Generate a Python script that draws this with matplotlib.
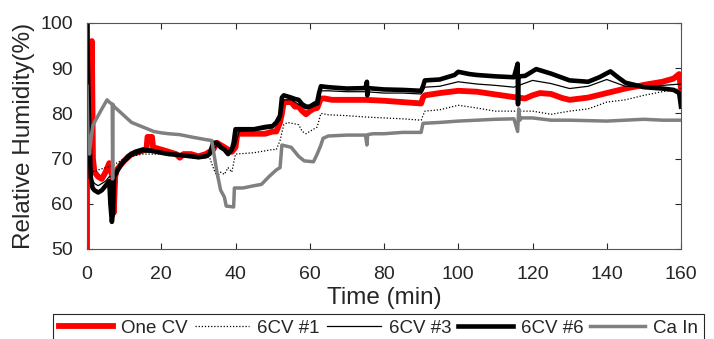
import matplotlib
matplotlib.use("Agg")
import matplotlib.pyplot as plt

# ---------------------------
# Dane
# ---------------------------
one_cv_t = [0, 0, 0.3, 1.0, 1.3, 1.6, 2, 3, 4, 5, 6, 6.8, 7.2, 7.6, 8, 9, 10, 12, 14, 16,
            16.3, 17.5, 17.8, 20, 22, 24, 25, 26, 28, 30, 32, 34, 35, 36, 38, 39, 40, 40.5,
            42, 45, 48, 50, 51, 52, 52.5, 53, 55, 56, 57, 58, 59, 60, 61, 62, 63, 64, 66,
            70, 75, 80, 85, 90, 90.5, 91, 95, 100, 105, 110, 115, 118, 120, 122, 125, 128,
            130, 135, 140, 145, 150, 155, 158, 159.5, 160]
one_cv = [50, 100, 70, 70, 96, 70, 67, 66, 65.5, 67, 69, 66, 58, 66, 67.5, 68.5, 69.5, 71, 71.5, 72,
          74.8, 74.8, 72.5, 72, 71.5, 71, 70.2, 71, 71, 70.5, 71, 72, 73.5, 73, 72, 71.5, 72.5, 75.5,
          75.5, 75.5, 75.5, 76, 76, 78, 80, 82.5, 82.5, 81.5, 81.5, 80.5, 79.8, 80.5, 81, 81.2, 83.3, 83.3, 83,
          83, 83, 82.8, 82.5, 82.2, 83.5, 84, 84.5, 85, 84.8, 84.2, 83.6, 83.3, 84, 84.5, 84.3, 83.4,
          83, 83.5, 84.5, 85.5, 86.3, 87, 87.7, 88.7, 85.5]

cv1_t = [0, 0.5, 1, 2, 3, 5, 7, 9, 10, 12, 15, 20, 25, 30, 33, 34, 35, 36, 37, 38, 39, 39.5, 40,
         45, 50, 51, 52, 53, 54, 57, 58, 59, 61, 62, 63, 65, 70, 75, 80, 85, 90, 91, 95, 100,
         105, 110, 115, 120, 125, 130, 135, 140, 145, 150, 155, 160]
cv1 = [85, 75, 68, 67, 67.5, 68, 68.5, 69.5, 70, 70.5, 71, 71, 70.5, 70, 70.3, 68, 66, 67, 66.5, 68, 67, 69, 71,
       71.3, 72, 72, 74, 77.5, 78, 77.5, 76, 75.5, 76.5, 77, 80, 79.7, 79.5, 79.2, 79, 78.8, 78.5, 80.5, 80.8, 81.8,
       81.2, 80.5, 80.5, 80.5, 79.8, 80.5, 81, 82.5, 83, 84, 84.8, 85.5]

cv3_t = [0, 0.5, 1, 2, 3, 4, 5, 6, 7, 8, 10, 12, 15, 20, 25, 30, 33, 35, 37, 39, 40, 41, 45, 50,
         52, 53, 55, 58, 59, 61, 62.5, 63, 65, 70, 75, 80, 85, 90, 91, 95, 100, 105, 110, 115,
         120, 125, 130, 135, 140, 145, 150, 155, 160]
cv3 = [100, 75, 66, 64.5, 64, 64.5, 65, 66, 66, 67, 69, 70.5, 71.5, 71.2, 70.8, 70.3, 70.8, 73, 72, 71.5, 73, 76, 76.2, 76.8,
       78.5, 83, 83, 81.5, 81, 81.5, 82, 85, 85, 84.8, 84.8, 84.5, 84.5, 84.3, 85.8, 86, 87, 86.5, 86.2, 85.8,
       87.3, 86.6, 85.5, 86, 87.5, 86, 85.8, 86.2, 86.5]

cv6_t = [0, 0.5, 1, 1.5, 2, 3, 4, 5, 6, 6.3, 6.7, 7.0, 7.3, 8, 9, 10, 11, 12, 13, 15, 17, 20, 22, 25,
         28, 30, 32, 33, 34, 35, 36, 37, 38, 39, 39.5, 40, 42, 45, 48, 50, 51, 52, 52.5, 53, 55, 56,
         57, 58, 59, 60, 61, 62, 62.5, 63, 65, 70, 75, 75.4, 75.5, 75.6, 80, 85, 90, 90.5, 91, 95,
         99, 100, 103, 105, 110, 115, 116, 116.1, 116.2, 116.4, 118, 121, 125, 130, 135, 138, 141,
         143, 145, 150, 155, 158, 159.5, 160]
cv6 = [100, 80, 66, 63.5, 63, 62.5, 63, 64, 65, 60, 56, 58, 66, 67, 68.5, 69.5, 70.5, 71, 71.5, 72, 71.8, 71.3, 71, 70.8,
       70.5, 70.3, 70.5, 71, 73.5, 73.5, 72.5, 72, 71, 72, 73.5, 76.5, 76.5, 76.5, 77, 77.2, 78, 79.5, 83.5, 84, 83.5, 83.2,
       83, 82, 81.5, 81.5, 82, 82.5, 84.5, 86, 85.8, 85.5, 85.6, 87, 84, 85.6, 85.3, 85.2, 85, 86, 87.3, 87.5,
       88.5, 89.2, 88.7, 88.5, 88.2, 88, 91, 82, 88, 88.2, 88.3, 89.8, 88.8, 87.3, 87, 88, 89.3,
       88, 86.8, 85.8, 85.5, 85.2, 84.5, 81.5]

ca_t = [0, 0.3, 0.7, 1, 1.6, 3, 4, 5.4, 6, 6.8, 6.9, 7.0, 7.3, 8, 10, 12, 15, 18, 20, 22, 25, 28,
        30, 32, 33.6, 34.4, 35, 36, 37, 37.5, 39.5, 39.7, 42, 45, 47, 49, 51, 52, 52.5, 55, 57, 58.5,
        61, 62, 63, 63.6, 65, 70, 75, 75.4, 75.6, 77, 80, 85, 90, 90.5, 95, 100, 110, 115, 116,
        116.3, 116.6, 117, 120, 125, 130, 140, 150, 155, 160]
ca_in = [86, 73, 71, 74, 77.4, 79.5, 81, 83, 82.5, 82, 65.5, 82, 81.5, 81, 79.5, 78, 77, 76, 75.7, 75.5, 75.3, 74.8,
         74.5, 74.2, 74, 70, 67, 63, 61.5, 59.5, 59.3, 63.5, 63.5, 64, 64.3, 66, 67.5, 68, 73, 72.5, 70.5, 69.5,
         69.3, 71, 73, 74.5, 75, 75.2, 75.2, 73, 75.3, 75.5, 75.5, 75.8, 75.8, 77.8, 78, 78.3, 78.7, 78.8, 76,
         81, 78.5, 79, 79, 78.5, 78.5, 78.3, 78.7, 78.5, 78.5]

x_ticks = [0, 20, 40, 60, 80, 100, 120, 140, 160]
y_ticks = [50, 60, 70, 80, 90, 100]

# ---------------------------
# Wykres
# ---------------------------
plt.rcParams['font.family'] = ['Liberation Sans', 'DejaVu Sans']
txt = '#262626'

fig = plt.figure(figsize=(7.14, 3.39), dpi=100)
ax = fig.add_axes([87/714, 90/339, 594/714, 226/339])

ax.plot(one_cv_t, one_cv, color='red', lw=4.2, label='One CV')
ax.plot(cv1_t, cv1, color='black', lw=0.9, ls=(0, (1, 1.5)), label='6CV #1')
ax.plot(cv3_t, cv3, color='black', lw=0.9, label='6CV #3')
ax.plot(cv6_t, cv6, color='black', lw=3.3, label='6CV #6')
ax.plot(ca_t, ca_in, color='#808080', lw=2.5, label='Ca In')

ax.set_xlim(0, 160)
ax.set_ylim(50, 100)
ax.set_xticks(x_ticks)
ax.set_yticks(y_ticks)
ax.tick_params(direction='in', top=True, right=True, length=4, width=0.8,
               labelsize=14, colors=txt)
ax.tick_params(axis='x', pad=12)
ax.tick_params(axis='y', pad=10)
for s in ax.spines.values():
    s.set_color('#555555')
    s.set_linewidth(0.8)

ax.set_xlabel('Time (min)', fontsize=17.5, color=txt, labelpad=3)
ax.set_ylabel('Relative Humidity(%)', fontsize=17.5, color=txt, labelpad=4)

leg = fig.legend(loc='upper left', bbox_to_anchor=(53/714, 1 - 314/339), ncol=5,
                 fontsize=13.5, frameon=True, fancybox=False, framealpha=1,
                 edgecolor='#262626', handlelength=2.9, handletextpad=0.45,
                 columnspacing=0.35, borderpad=0.3, borderaxespad=0)
leg.get_frame().set_linewidth(0.8)
for t in leg.get_texts():
    t.set_color(txt)

fig.savefig('out.png', dpi=100)
